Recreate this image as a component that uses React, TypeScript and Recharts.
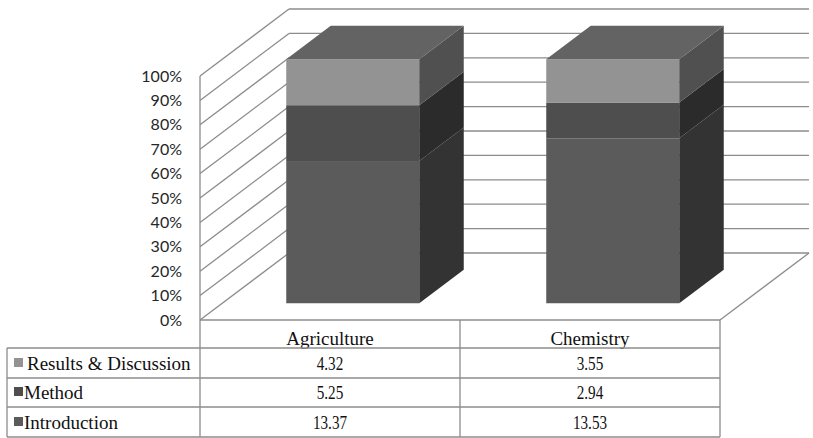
import React from "react";
import { BarChart, Bar, XAxis, YAxis, CartesianGrid } from "recharts";

const categories = ["Agriculture", "Chemistry"];
const introduction = [13.37, 13.53];
const method = [5.25, 2.94];
const results = [4.32, 3.55];
const yTicks = [0, 0.1, 0.2, 0.3, 0.4, 0.5, 0.6, 0.7, 0.8, 0.9, 1];

const series = [
  { key: "introduction", name: "Introduction", values: introduction, front: "#5b5b5b", side: "#333333" },
  { key: "method", name: "Method", values: method, front: "#4e4e4e", side: "#2b2b2b" },
  { key: "results", name: "Results & Discussion", values: results, front: "#939393", side: "#505050" },
];

const data = categories.map((name, i) => {
  const row: any = { name };
  series.forEach((s) => (row[s.key] = s.values[i]));
  return row;
});

// layout
const W = 813;
const H = 438;
const PLOT_LEFT = 200;
const PLOT_RIGHT = 720;
const PLOT_TOP = 76;
const PLOT_BOTTOM = 320;
const DX = 89; // floor depth
const DY = -67;
const TOP_COLOR = "#636363";
const GRID = "#8c8c8c";
const ROW_H = [28, 30, 29, 30];
const SERIF = "'Liberation Serif', 'Times New Roman', serif";

const tableRows = [...series].reverse();

const Prism = (props: any) => {
  const { x, y, width, height, s, isTop } = props;
  if (width == null || height == null) return null;
  const fx = x + DX / 4;
  const fy = y + DY / 4;
  const bx = DX / 2;
  const by = DY / 2;
  const r = fx + width;
  return (
    <g>
      <rect x={fx} y={fy} width={width} height={height} fill={s.front} />
      <polygon
        points={`${r},${fy} ${r + bx},${fy + by} ${r + bx},${fy + height + by} ${r},${fy + height}`}
        fill={s.side}
      />
      {isTop && (
        <polygon
          points={`${fx},${fy} ${r},${fy} ${r + bx},${fy + by} ${fx + bx},${fy + by}`}
          fill={TOP_COLOR}
        />
      )}
    </g>
  );
};

// walls: each horizontal grid line becomes a left-wall diagonal plus a back-wall line
const WallLine = (props: any) => {
  const { x1, y1, x2 } = props;
  const bottom = Math.abs(y1 - PLOT_BOTTOM) < 1;
  return (
    <g key={props.key}>
      <line x1={x1} y1={y1} x2={x1 + DX} y2={y1 + DY} stroke={GRID} strokeWidth={1.3} />
      <line x1={x1 + DX} y1={y1 + DY} x2={x2 + DX} y2={y1 + DY} stroke={GRID} strokeWidth={1.3} />
      {bottom && <line x1={x2} y1={y1} x2={x2 + DX} y2={y1 + DY} stroke={GRID} strokeWidth={1.3} />}
    </g>
  );
};

// one table column per category, placed on the x-axis tick
const ColumnTick = (props: any) => {
  const { x, y, payload } = props;
  const i = payload.index;
  let yy = y;
  const cells = [
    <text key="h" x={x} y={yy + 25} textAnchor="middle" fontFamily={SERIF} fontSize={19} fill="#111">
      {payload.value}
    </text>,
  ];
  yy += ROW_H[0];
  tableRows.forEach((s, r) => {
    const base = yy + ROW_H[r + 1] - 8;
    cells.push(
      <text
        key={s.key}
        transform={`translate(${x},${base}) scale(0.8,1)`}
        textAnchor="middle"
        fontFamily={SERIF}
        fontSize={19}
        fill="#111"
      >
        {s.values[i]}
      </text>
    );
    yy += ROW_H[r + 1];
  });
  return <g>{cells}</g>;
};

const TableFrame = () => {
  const rowsY: number[] = [];
  let y = PLOT_BOTTOM;
  ROW_H.forEach((h) => {
    y += h;
    rowsY.push(y);
  });
  const mid = (PLOT_LEFT + PLOT_RIGHT) / 2;
  const bottom = rowsY[rowsY.length - 1];
  return (
    <svg width={W} height={H} style={{ position: "absolute", left: 0, top: 0, pointerEvents: "none" }}>
      <g stroke={GRID} strokeWidth={1.3}>
        <line x1={PLOT_LEFT} y1={PLOT_TOP} x2={PLOT_LEFT} y2={bottom} />
        <line x1={PLOT_LEFT} y1={PLOT_BOTTOM} x2={PLOT_RIGHT} y2={PLOT_BOTTOM} />
        <line x1={mid} y1={PLOT_BOTTOM} x2={mid} y2={bottom} />
        <line x1={PLOT_RIGHT} y1={PLOT_BOTTOM} x2={PLOT_RIGHT} y2={bottom} />
        <line x1={7} y1={rowsY[0]} x2={7} y2={bottom} />
        {rowsY.map((ry) => (
          <line key={ry} x1={7} y1={ry} x2={PLOT_RIGHT} y2={ry} />
        ))}
      </g>
      {tableRows.map((s, r) => {
        const base = rowsY[r + 1] - 8;
        return (
          <g key={s.key}>
            <rect x={14} y={base - 12} width={9} height={9} fill={s.front} />
            <text x={r === 0 ? 27 : 24} y={base} fontFamily={SERIF} fontSize={19} fill="#111">
              {s.name}
            </text>
          </g>
        );
      })}
    </svg>
  );
};

export default function App() {
  return (
    <div style={{ position: "absolute", left: 0, top: 0, width: W, height: H, background: "#fff" }}>
      <BarChart
        width={W}
        height={H}
        data={data}
        stackOffset="expand"
        margin={{ top: PLOT_TOP, right: W - PLOT_RIGHT, bottom: 0, left: 0 }}
      >
        <CartesianGrid vertical={false} horizontal={WallLine} />
        <XAxis
          dataKey="name"
          height={H - PLOT_BOTTOM}
          axisLine={false}
          tickLine={false}
          tickSize={0}
          tickMargin={0}
          interval={0}
          tick={ColumnTick}
        />
        <YAxis
          width={PLOT_LEFT}
          domain={[0, 1]}
          ticks={yTicks}
          axisLine={false}
          tickLine={false}
          tickSize={0}
          tickMargin={18}
          tickFormatter={(v: number) => `${Math.round(v * 100)}%`}
          tick={{ fill: "#262626", fontSize: 16, fontFamily: "Lato" }}
        />
        {series.map((s, k) => (
          <Bar
            key={s.key}
            dataKey={s.key}
            name={s.name}
            stackId="a"
            barSize={133}
            isAnimationActive={false}
            shape={(p: any) => <Prism {...p} s={s} isTop={k === series.length - 1} />}
          />
        ))}
      </BarChart>
      <TableFrame />
    </div>
  );
}
